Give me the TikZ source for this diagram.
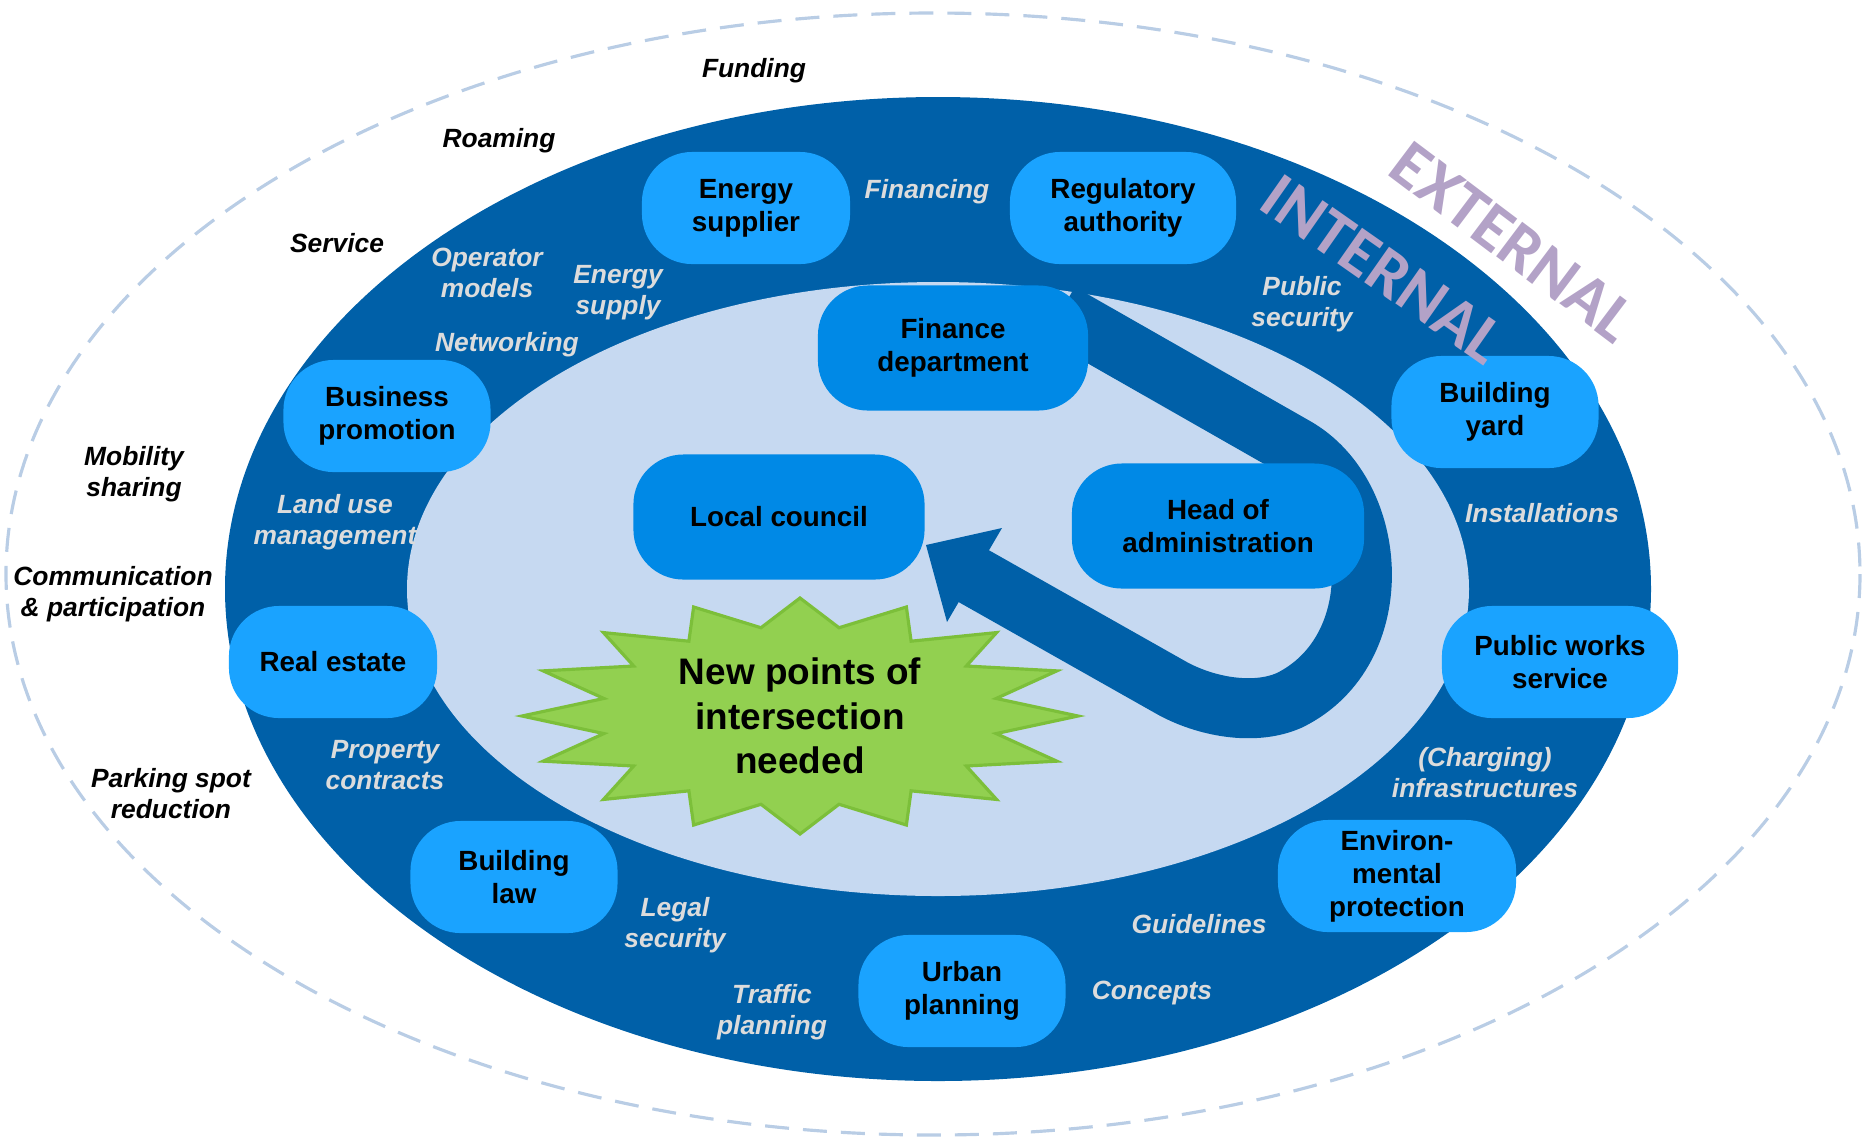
\documentclass[tikz,border=0pt]{standalone}
\usepackage{fontspec}
\setmainfont{Liberation Sans}
\newfontfamily\calfont{Carlito}

\definecolor{ringblue}{HTML}{0060A8}
\definecolor{innerfill}{HTML}{C6D9F1}
\definecolor{unitblue}{HTML}{1AA3FF}
\definecolor{coreblue}{HTML}{0089E6}
\definecolor{lblgray}{HTML}{DCDCDC}
\definecolor{zonepurple}{HTML}{B3A2C7}
\definecolor{dashcol}{HTML}{B9CDE5}
\definecolor{burstfill}{HTML}{92D050}
\definecolor{burstline}{HTML}{7CBF3A}

\begin{document}
\begin{tikzpicture}[x=0.01cm, y=-0.01cm,
	unit/.style={fill=unitblue, rounded corners=0.5cm, minimum width=2.07cm, minimum height=1.12cm,
		align=center, inner sep=0pt, font=\bfseries\fontsize{7.9}{9.4}\selectfont},
	core/.style={unit, fill=coreblue, minimum height=1.25cm},
	inlbl/.style={text=lblgray, align=center, inner sep=0pt, font=\bfseries\itshape\fontsize{7.5}{8.8}\selectfont},
	outlbl/.style={inlbl, text=black},
	zone/.style={text=zonepurple, inner sep=0pt, font=\calfont\bfseries\fontsize{19}{20}\selectfont}]
	\useasboundingbox (0,0) rectangle (1863,1141);
	% rings
	\draw[dashcol, line width=0.9pt, dash pattern=on 0.24cm off 0.14cm] (933,574) ellipse [x radius=927, y radius=561];
	\fill[ringblue] (938,589) ellipse [x radius=713, y radius=492];
	\fill[innerfill] (938,589) ellipse [x radius=531, y radius=307];
	% u-turn arrow
	\draw[ringblue, line width=0.6cm, line join=round] (1060,313) -- (1295,447)
		.. controls (1380,495) and (1390,650) .. (1290,700)
		.. controls (1255,716) and (1205,707) .. (1170,687) -- (970,574);
	\fill[ringblue] (926,545) -- (1002,528) -- (947,622) -- cycle;
	% starburst
	\draw[fill=burstfill, draw=burstline, line width=0.9pt] (1078,716)
		\foreach \k in {0,...,15} {
			-- ({800+200*cos(\k*22.5+11.25)},{716+90*sin(\k*22.5+11.25)})
			-- ({800+278*cos((\k+1)*22.5)},{716+118*sin((\k+1)*22.5)})
		} -- cycle;
	\draw (800,716) node[align=center, font=\bfseries\fontsize{10.5}{12.7}\selectfont] (burst) {New points of\\intersection\\needed};
	% units
	\draw (746,208) node[unit, minimum width=2.08cm] (energy) {Energy\\supplier};
	\draw (1123,208) node[unit, minimum width=2.26cm] (regulator) {Regulatory\\authority};
	\draw (953,348) node[core, minimum width=2.70cm] (finance) {Finance\\department};
	\draw (779,517) node[core, minimum width=2.91cm] (council) {Local council};
	\draw (1218,526) node[core, minimum width=2.92cm] (head) {Head of\\administration};
	\draw (387,416) node[unit] (business) {Business\\promotion};
	\draw (1495,412) node[unit] (yard) {Building\\yard};
	\draw (333,662) node[unit, minimum width=2.08cm] (estate) {Real estate};
	\draw (1560,662) node[unit, minimum width=2.36cm] (works) {Public works\\service};
	\draw (514,877) node[unit] (law) {Building\\law};
	\draw (1397,876) node[unit, minimum width=2.38cm] (environ) {Environ-\\mental\\protection};
	\draw (962,991) node[unit] (urban) {Urban\\planning};
	% internal topics
	\draw (927,192) node[inlbl] (financing) {Financing};
	\draw (487,273) node[inlbl] (operator) {Operator\\models};
	\draw (618,293) node[inlbl] (supply) {Energy\\supply};
	\draw (507,345) node[inlbl] (networking) {Networking};
	\draw (1302,304) node[inlbl] (publicsec) {Public\\security};
	\draw (335,522) node[inlbl] (landuse) {Land use\\management};
	\draw (1542,513) node[inlbl] (install) {Installations};
	\draw (385,765) node[inlbl] (property) {Property\\contracts};
	\draw (1485,773) node[inlbl] (charging) {(Charging)\\infrastructures};
	\draw (675,925) node[inlbl] (legal) {Legal\\security};
	\draw (1199,924) node[inlbl] (guide) {Guidelines};
	\draw (772,1012) node[inlbl] (traffic) {Traffic\\planning};
	\draw (1152,993) node[inlbl] (concepts) {Concepts};
	% external topics
	\draw (754,71) node[outlbl] (funding) {Funding};
	\draw (499,141) node[outlbl] (roaming) {Roaming};
	\draw (337,243) node[outlbl] (service) {Service};
	\draw (134,474) node[outlbl] (mobility) {Mobility\\sharing};
	\draw (113,594) node[outlbl] (comm) {Communication\\\& participation};
	\draw (171,794) node[outlbl] (parking) {Parking spot\\reduction};
	% zone titles
	\draw (1383,269) node[zone, rotate=-35] (internal) {INTERNAL};
	\draw (1513,242) node[zone, rotate=-37] (external) {EXTERNAL};
\end{tikzpicture}
\end{document}
